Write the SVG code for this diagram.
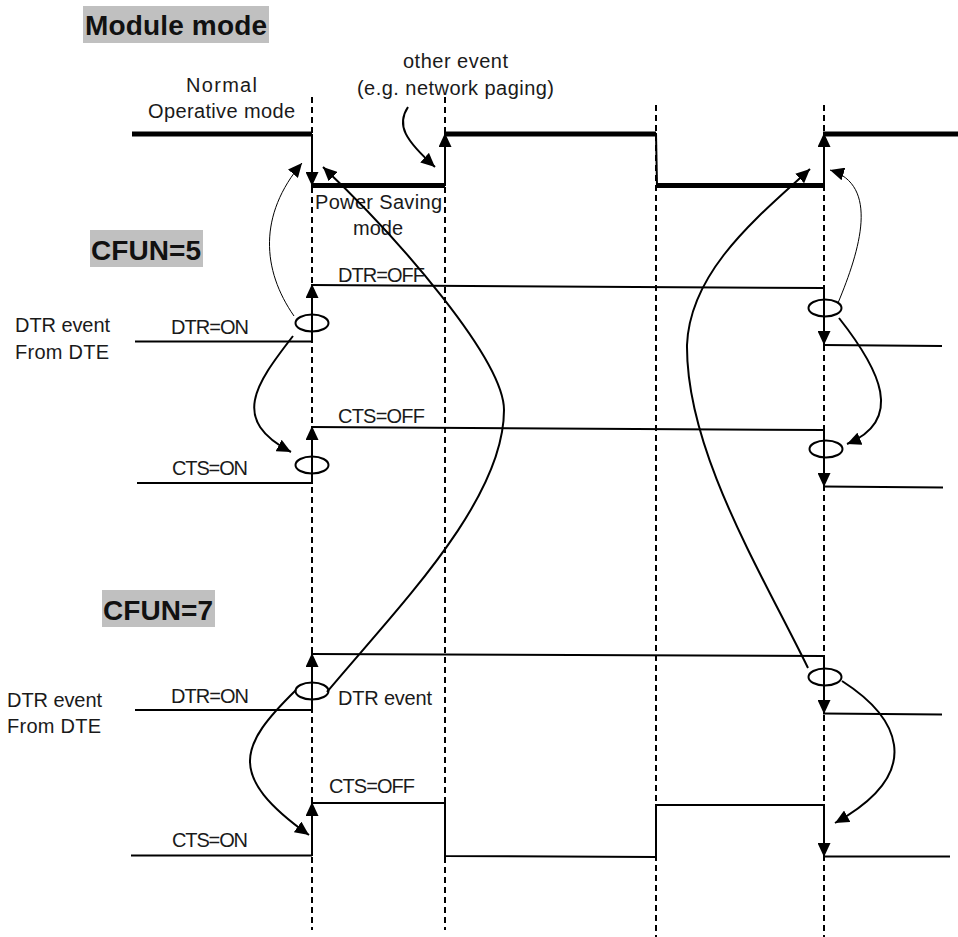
<svg xmlns="http://www.w3.org/2000/svg" width="958" height="937" viewBox="0 0 958 937">
<style>
text{font-family:"Liberation Sans",Arial,sans-serif;fill:#1a1a1a}
.lbl{font-size:20px}
.ttl{font-size:28px;font-weight:bold;fill:#111}
.tbox{fill:#c0c0c0}
.dash{stroke:#000;stroke-width:2;stroke-dasharray:6,4;fill:none}
.sig{stroke:#000;stroke-width:2;fill:none}
.mod{stroke:#000;stroke-width:5;fill:none}
.edge{stroke:#000;stroke-width:2;fill:none;marker-end:url(#ah)}
.ell{stroke:#000;stroke-width:2;fill:none}
.crv{stroke:#000;stroke-width:2;fill:none;marker-end:url(#ah)}
.thin{stroke:#000;stroke-width:1;fill:none;marker-end:url(#ah)}
</style>
<defs>
<marker id="ah" viewBox="0 0 14 13" refX="14" refY="6.5" markerWidth="14" markerHeight="13" markerUnits="userSpaceOnUse" orient="auto"><path d="M0,0 L14,6.5 L0,13 z" fill="#000"/></marker>
</defs>
<rect width="958" height="937" fill="#fff"/>

<g id="guides">
<line class="dash" x1="312" y1="97" x2="312" y2="930"/>
<line class="dash" x1="445" y1="97" x2="445" y2="930"/>
<line class="dash" x1="656" y1="105" x2="656" y2="937"/>
<line class="dash" x1="824" y1="105" x2="824" y2="937"/>
</g>

<g id="title-module">
<rect class="tbox" x="83" y="6" width="186" height="37"/>
<text class="ttl" x="85" y="35" textLength="182">Module mode</text>
</g>
<g id="title-cfun5">
<rect class="tbox" x="90" y="230" width="113" height="37"/>
<text class="ttl" x="91" y="260" textLength="110">CFUN=5</text>
</g>
<g id="title-cfun7">
<rect class="tbox" x="102" y="590" width="113" height="37"/>
<text class="ttl" x="103" y="620" textLength="110">CFUN=7</text>
</g>

<g id="module-mode">
<path class="mod" d="M132,134 H312"/>
<path class="mod" d="M311,185.5 H445"/>
<path class="mod" d="M445,134 H656"/>
<path class="sig" d="M656,133 L657,186"/>
<path class="mod" d="M656,185.5 H824"/>
<path class="mod" d="M823,134 H958"/>
<line class="edge" x1="312" y1="134" x2="312" y2="186"/>
<line class="edge" x1="445" y1="186" x2="445" y2="133"/>
<line class="edge" x1="824" y1="186" x2="824" y2="133"/>
<text class="lbl" x="186" y="92" textLength="71">Normal</text>
<text class="lbl" x="148" y="118" textLength="147">Operative mode</text>
<text class="lbl" x="403" y="68" textLength="105">other event</text>
<text class="lbl" x="357" y="95" textLength="197">(e.g. network paging)</text>
<text class="lbl" x="315" y="209" textLength="127">Power Saving</text>
<text class="lbl" x="353" y="235" textLength="50">mode</text>
</g>

<g id="cfun5-dtr">
<path class="sig" d="M135,341.5 H312"/>
<line class="edge" x1="312" y1="342" x2="312" y2="284"/>
<path class="sig" d="M311,285 L824,288"/>
<line class="edge" x1="824" y1="287" x2="824" y2="345"/>
<path class="sig" d="M823,345 L942,346"/>
<ellipse class="ell" cx="312" cy="323" rx="16.5" ry="8.5"/>
<ellipse class="ell" cx="825" cy="308" rx="16.5" ry="8.5"/>
<text class="lbl" x="171" y="334" textLength="78">DTR=ON</text>
<text class="lbl" x="338" y="282" textLength="87">DTR=OFF</text>
<text class="lbl" x="15" y="332" textLength="95">DTR event</text>
<text class="lbl" x="15" y="359" textLength="94">From DTE</text>
</g>

<g id="cfun5-cts">
<path class="sig" d="M137,483 H312"/>
<line class="edge" x1="312" y1="484" x2="312" y2="426"/>
<path class="sig" d="M311,427 L824,430"/>
<line class="edge" x1="824" y1="429" x2="824" y2="487"/>
<path class="sig" d="M823,486.5 L943,487.5"/>
<ellipse class="ell" cx="312" cy="465" rx="16.5" ry="8.5"/>
<ellipse class="ell" cx="826" cy="449" rx="16.5" ry="8.5"/>
<text class="lbl" x="172" y="475" textLength="76">CTS=ON</text>
<text class="lbl" x="338" y="423" textLength="87">CTS=OFF</text>
</g>

<g id="cfun7-dtr">
<path class="sig" d="M135,710 H312"/>
<line class="edge" x1="312" y1="711" x2="312" y2="653"/>
<path class="sig" d="M311,654 L824,656"/>
<line class="edge" x1="824" y1="655" x2="824" y2="714"/>
<path class="sig" d="M823,713.5 L942,714.5"/>
<ellipse class="ell" cx="312" cy="691" rx="16.5" ry="8.5"/>
<ellipse class="ell" cx="825" cy="677" rx="16.5" ry="8.5"/>
<text class="lbl" x="171" y="703" textLength="78">DTR=ON</text>
<text class="lbl" x="338" y="705" textLength="94">DTR event</text>
<text class="lbl" x="7" y="707" textLength="95">DTR event</text>
<text class="lbl" x="7" y="733" textLength="94">From DTE</text>
</g>

<g id="cfun7-cts">
<path class="sig" d="M131,855.5 H312"/>
<line class="edge" x1="312" y1="856" x2="312" y2="802"/>
<path class="sig" d="M311,803 H445 V856 L656,857 V805 H824"/>
<line class="edge" x1="824" y1="804" x2="824" y2="857"/>
<path class="sig" d="M823,856.5 H950"/>
<text class="lbl" x="172" y="847" textLength="76">CTS=ON</text>
<text class="lbl" x="329" y="793" textLength="86">CTS=OFF</text>
</g>

<g id="connectors">
<path class="crv" d="M408,107 C396,125 405,140 435,167"/>
<path class="thin" d="M294,316 C262,270 258,215 302,163"/>
<path class="thin" d="M838,303 C860,250 880,185 830,170"/>
<path class="crv" d="M293,336 C255,385 230,420 291,452"/>
<path class="crv" d="M839,318 C880,370 905,420 847,444"/>
<path class="crv" d="M327,692 C400,605 504,500 504,410 C504,360 400,240 323,167"/>
<path class="crv" d="M808,668 C760,570 686,450 687,345 C690,270 760,215 810,169"/>
<path class="crv" d="M296,690 C240,745 225,775 309,835"/>
<path class="crv" d="M842,681 C895,715 930,770 835,823"/>
</g>
</svg>
